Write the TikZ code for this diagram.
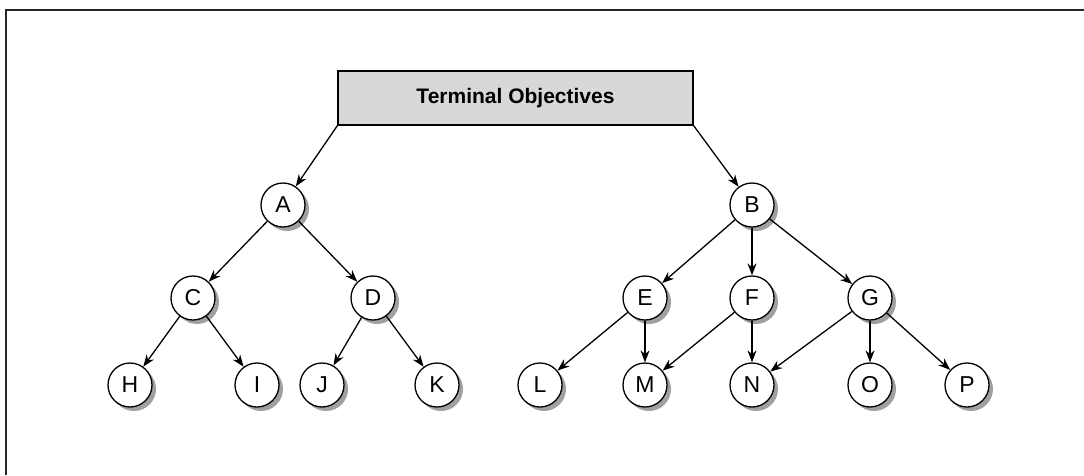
\documentclass[tikz,border=0pt]{standalone}
\usepackage{fontspec}
\setmainfont{Liberation Sans}
\usetikzlibrary{arrows.meta,shadows}
\definecolor{boxgray}{RGB}{216,216,216}
\definecolor{shadowgray}{RGB}{160,160,160}
\tikzset{
  obj/.style={circle,draw=black,line width=1.3pt,fill=white,minimum size=44pt,inner sep=0pt,
    font=\fontsize{23}{25}\selectfont,
    drop shadow={shadow xshift=4pt,shadow yshift=-4pt,fill=shadowgray,opacity=1}},
  topbox/.style={draw=black,line width=1.3pt,fill=boxgray,minimum width=355pt,minimum height=54pt,
    inner sep=0pt,font=\fontsize{21}{24}\bfseries\selectfont},
  link/.style={line width=1.3pt,-{Stealth[length=12pt,width=9pt]}},
  frame/.style={line width=1.6pt,draw=black!85}
}
\begin{document}
\begin{tikzpicture}[x=1pt,y=-1pt]
\useasboundingbox (0,0) rectangle (1084,475);
\coordinate (fl) at (6,475);
\coordinate (ftl) at (6,10);
\coordinate (fr) at (1084,10);
\draw[frame] (fl) -- (ftl) -- (fr);
\node[topbox] (T) at (515.5,98) {Terminal Objectives};
\node[obj] (A) at (283,205) {A};
\node[obj] (B) at (752,205) {B};
\node[obj] (C) at (193,298) {C};
\node[obj] (D) at (373,298) {D};
\node[obj] (E) at (645,298) {E};
\node[obj] (F) at (752,298) {F};
\node[obj] (G) at (870,298) {G};
\node[obj] (H) at (130,385) {H};
\node[obj] (I) at (257,385) {I};
\node[obj] (J) at (322,385) {J};
\node[obj] (K) at (437,385) {K};
\node[obj] (L) at (540,385) {L};
\node[obj] (M) at (645,385) {M};
\node[obj] (N) at (752,385) {N};
\node[obj] (O) at (870,385) {O};
\node[obj] (P) at (967,385) {P};
\draw[link] (T.south west) -- (A);
\draw[link] (T.south east) -- (B);
\draw[link] (A) -- (C);
\draw[link] (A) -- (D);
\draw[link] (C) -- (H);
\draw[link] (C) -- (I);
\draw[link] (D) -- (J);
\draw[link] (D) -- (K);
\draw[link] (B) -- (E);
\draw[link] (B) -- (F);
\draw[link] (B) -- (G);
\draw[link] (E) -- (L);
\draw[link] (E) -- (M);
\draw[link] (F) -- (M);
\draw[link] (F) -- (N);
\draw[link] (G) -- (N);
\draw[link] (G) -- (O);
\draw[link] (G) -- (P);
\end{tikzpicture}
\end{document}
